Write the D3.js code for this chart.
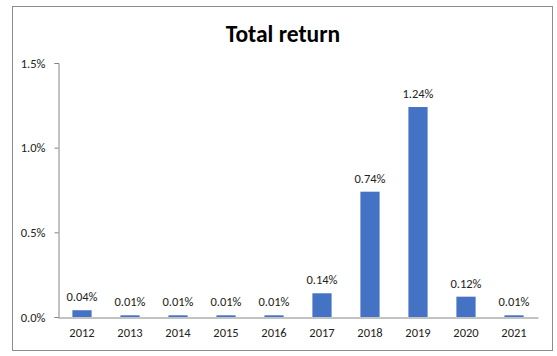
<!DOCTYPE html>
<html><head><meta charset="utf-8">
<script src="https://cdn.jsdelivr.net/npm/d3@7"></script>
<style>body{margin:0;background:#fff;}svg{display:block;}</style>
</head><body>
<script>
const years = ["2012","2013","2014","2015","2016","2017","2018","2019","2020","2021"];
const values = [0.04,0.01,0.01,0.01,0.01,0.14,0.74,1.24,0.12,0.01];
const yTicks = [0,0.5,1.0,1.5];
const title = "Total return";

const W=557,H=356;
const svg=d3.select("body").append("svg").attr("width",W).attr("height",H);
svg.append("rect").attr("width",W).attr("height",H).attr("fill","#fff");
svg.append("rect").attr("x",12.5).attr("y",6.5).attr("width",540).attr("height",344)
  .attr("fill","#fff").attr("stroke","#8c8c8c").attr("stroke-width",1);

const font="Carlito, 'Open Sans', 'Noto Sans', sans-serif";
const x=d3.scaleBand().domain(years).range([58,538]).paddingInner(0.6).paddingOuter(0.3);
const y=d3.scaleLinear().domain([0,1.5]).range([317,63]);

svg.append("text").attr("x",283).attr("y",42).attr("text-anchor","middle")
  .attr("font-family",font).attr("font-weight","bold").attr("font-size",23.5).attr("fill","#000").text(title);

const ya=svg.append("g").attr("transform","translate(58.5,0)")
  .call(d3.axisLeft(y).tickValues(yTicks).tickFormat(d=>d.toFixed(1)+"%").tickSizeOuter(0).tickSize(4).tickPadding(9));
ya.select(".domain").attr("stroke","#868686");
ya.selectAll(".tick line").attr("stroke","#868686");
ya.selectAll("text").attr("font-family",font).attr("font-size",12.5).attr("fill","#222");

svg.selectAll("rect.bar").data(values).enter().append("rect").attr("class","bar")
  .attr("x",(d,i)=>x(years[i])).attr("width",x.bandwidth())
  .attr("y",d=>y(d)).attr("height",d=>y(0)-y(d)).attr("fill","#4472C4");

const xa=svg.append("g").attr("transform","translate(0,317.5)")
  .call(d3.axisBottom(x).tickSize(0).tickSizeOuter(0).tickPadding(11));
xa.select(".domain").attr("stroke","#868686");
xa.selectAll("text").attr("font-family",font).attr("font-size",12.5).attr("fill","#222");

svg.selectAll("text.lbl").data(values).enter().append("text").attr("class","lbl")
  .attr("x",(d,i)=>x(years[i])+x.bandwidth()/2).attr("y",d=>y(d)-9)
  .attr("text-anchor","middle").attr("font-family",font).attr("font-size",12.5).attr("fill","#222")
  .text(d=>d.toFixed(2)+"%");
</script>
</body></html>
